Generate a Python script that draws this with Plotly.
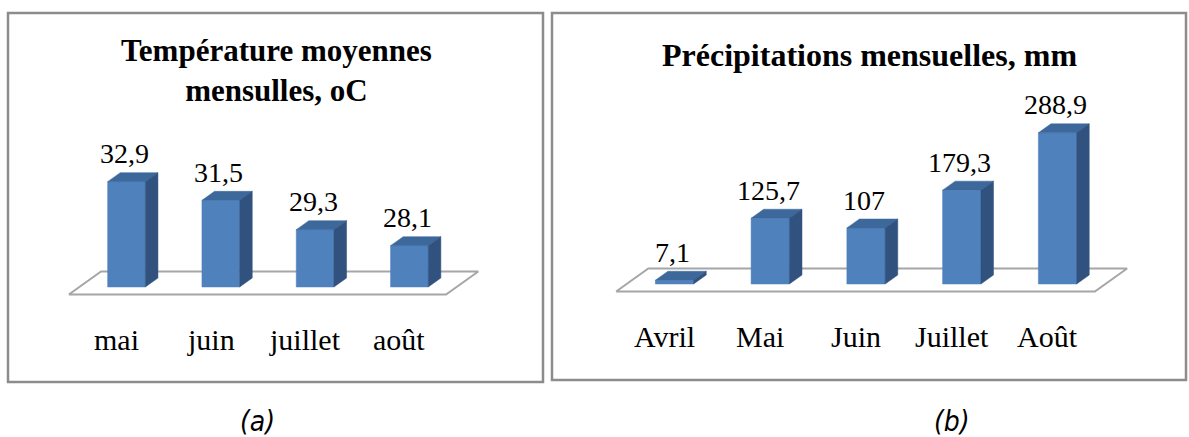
import plotly.graph_objects as go

W, H = 1189, 437

# Monthly mean temperature (°C)
temp_months = ["mai", "juin", "juillet", "août"]
temp_values = [32.9, 31.5, 29.3, 28.1]

# Monthly rainfall (mm)
rain_months = ["Avril", "Mai", "Juin", "Juillet", "Août"]
rain_values = [7.1, 125.7, 107, 179.3, 288.9]

FRONT = "#4f81bd"
TOP = "#3d689c"
SIDE = "#31527f"
FLOOR_LINE = "#a6a6a6"
BOX_LINE = "#8c8c8c"
SERIF = "Liberation Serif, Times New Roman, serif"

# Panel layout in pixels (from the top-left of the page)
panels = [
    dict(name="temp", months=temp_months, values=temp_values,
         x0=126.5, step=94.3, base_px=287, axis_min=25, axis_max=34, top_px=167,
         xaxis="x", yaxis="y"),
    dict(name="rain", months=rain_months, values=rain_values,
         x0=674.5, step=95.75, base_px=284, axis_min=0, axis_max=300, top_px=127,
         xaxis="x2", yaxis="y2"),
]

HALF_W = 0.2          # half bar width, in category units
BAR_DEPTH = 9         # depth of a bar, px (oblique)
SLANT = 1.4           # horizontal px per vertical px of depth
FLOOR_FRONT = -7.5    # floor front edge depth, px
FLOOR_BACK = 15.5     # floor back edge depth, px


def fmt(v):
    return f"{v:g}".replace(".", ",")


fig = go.Figure()
layout_axes = {}
annotations = []

for p in panels:
    n = len(p["values"])
    kx = p["step"]
    ky = (p["base_px"] - p["top_px"]) / (p["axis_max"] - p["axis_min"])
    b = p["axis_min"]

    # axes: x in category index units, y in data units
    x_lo, x_hi = -1.0, n
    px_l, px_r = p["x0"] + kx * x_lo, p["x0"] + kx * x_hi
    pad_bot, pad_top = 24, 40
    y_lo = b - pad_bot / ky
    y_hi = p["axis_max"] + pad_top / ky
    py_bot = p["base_px"] + pad_bot
    py_top = p["top_px"] - pad_top
    ax_key = "xaxis" if p["xaxis"] == "x" else "xaxis2"
    ay_key = "yaxis" if p["yaxis"] == "y" else "yaxis2"
    layout_axes[ax_key] = dict(domain=[px_l / W, px_r / W], range=[x_lo, x_hi],
                               visible=False, fixedrange=True,
                               anchor=p["yaxis"])
    layout_axes[ay_key] = dict(domain=[1 - py_bot / H, 1 - py_top / H],
                               range=[y_lo, y_hi], visible=False,
                               fixedrange=True, anchor=p["xaxis"])

    def off(t):
        return SLANT * t / kx, t / ky

    # floor plane
    fdx, fdy = off(FLOOR_FRONT)
    bdx, bdy = off(FLOOR_BACK)
    fx = [-0.5 + fdx, n - 0.5 + fdx, n - 0.5 + bdx, -0.5 + bdx, -0.5 + fdx]
    fy = [b + fdy, b + fdy, b + bdy, b + bdy, b + fdy]
    fig.add_trace(go.Scatter(x=fx, y=fy, fill="toself", fillcolor="white",
                             mode="lines", line=dict(color=FLOOR_LINE, width=2),
                             xaxis=p["xaxis"], yaxis=p["yaxis"],
                             hoverinfo="skip", showlegend=False))

    ddx, ddy = off(BAR_DEPTH)
    for i, v in enumerate(p["values"]):
        l, r = i - HALF_W, i + HALF_W
        faces = [
            ([l, r, r, l, l], [b, b, v, v, b], FRONT),
            ([l, r, r + ddx, l + ddx, l], [v, v, v + ddy, v + ddy, v], TOP),
            ([r, r + ddx, r + ddx, r, r], [b, b + ddy, v + ddy, v, b], SIDE),
        ]
        for xs, ys, col in faces:
            fig.add_trace(go.Scatter(x=xs, y=ys, fill="toself", fillcolor=col,
                                     mode="lines", line=dict(color=col, width=0.5),
                                     xaxis=p["xaxis"], yaxis=p["yaxis"],
                                     name=p["months"][i], hoverinfo="skip",
                                     showlegend=False))
        annotations.append(dict(x=i, y=v, xref=p["xaxis"], yref=p["yaxis"],
                                text=fmt(v), showarrow=False, yshift=28, xshift=-2,
                                yanchor="middle",
                                font=dict(family=SERIF, size=28, color="black")))
        annotations.append(dict(x=i, y=b, xref=p["xaxis"], yref=p["yaxis"],
                                text=p["months"][i], showarrow=False,
                                yshift=-52, xshift=-10, yanchor="middle",
                                font=dict(family=SERIF, size=30, color="black")))

# chart titles
annotations.append(dict(x=276 / W, y=1 - 70 / H, xref="paper", yref="paper",
                        text="<b>Température moyennes<br>mensulles, oC</b>",
                        showarrow=False, yanchor="middle", xanchor="center",
                        font=dict(family=SERIF, size=31, color="black")))
annotations.append(dict(x=869 / W, y=1 - 55 / H, xref="paper", yref="paper",
                        text="<b>Précipitations mensuelles, mm</b>",
                        showarrow=False, yanchor="middle", xanchor="center",
                        font=dict(family=SERIF, size=32, color="black")))

# panel captions
CAPTION_FONT = "Liberation Sans Narrow, DejaVu Sans Condensed, sans-serif"
for txt, cx in (("(a)", 257), ("(b)", 952)):
    annotations.append(dict(x=cx / W, y=1 - 421 / H, xref="paper", yref="paper",
                            text=f"<i>{txt}</i>", showarrow=False,
                            yanchor="middle", xanchor="center",
                            font=dict(family=CAPTION_FONT, size=28, color="black")))

# frames around each chart
shapes = []
for (x0, y0, x1, y1) in ((8, 13, 543, 382), (552, 13, 1186, 380)):
    shapes.append(dict(type="rect", xref="paper", yref="paper",
                       x0=x0 / W, x1=x1 / W, y0=1 - y1 / H, y1=1 - y0 / H,
                       line=dict(color=BOX_LINE, width=2.5), fillcolor="rgba(0,0,0,0)",
                       layer="below"))

fig.update_layout(width=W, height=H, margin=dict(l=0, r=0, t=0, b=0),
                  paper_bgcolor="white", plot_bgcolor="rgba(0,0,0,0)",
                  showlegend=False, annotations=annotations, shapes=shapes,
                  **layout_axes)

fig.write_html("out.html", config={"displayModeBar": False})
